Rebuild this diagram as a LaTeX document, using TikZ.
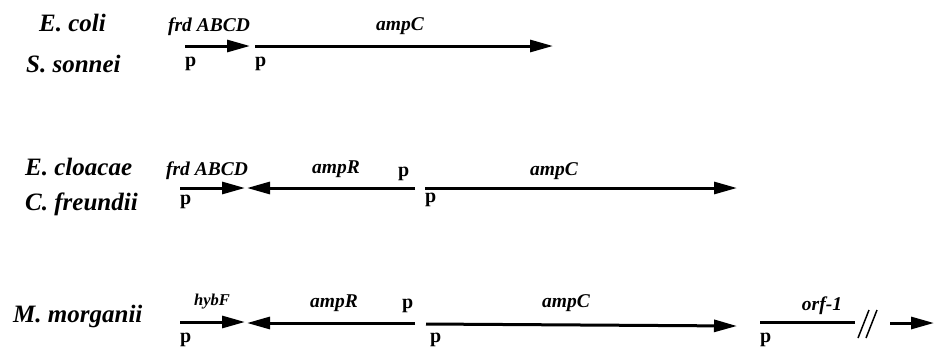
\documentclass[tikz,border=0pt]{standalone}
\usepackage{fontspec}
\setmainfont{Liberation Serif}
\usetikzlibrary{arrows.meta}
\tikzset{
  species/.style={font=\fontsize{25}{25}\selectfont\bfseries\itshape, inner sep=0pt, anchor=base west},
  gene/.style={font=\fontsize{19.5}{20}\selectfont\bfseries\itshape, inner sep=0pt, anchor=base},
  prom/.style={font=\fontsize{20}{20}\selectfont\bfseries, inner sep=0pt, anchor=base west},
  orfline/.style={line width=3pt},
  genearrow/.style={line width=3pt, -{Triangle[length=23pt,width=12pt]}},
  brk/.style={line width=1.5pt}
}
\begin{document}
\begin{tikzpicture}[x=1pt,y=-1pt]
\useasboundingbox (0,0) rectangle (934,346);
% ---------- Row 1 ----------
\node[species] (ecoli) at (39,31) {E. coli};
\node[species] (sson) at (26,72) {S. sonnei};
\coordinate (f1s) at (185,46); \coordinate (f1e) at (250,46);
\coordinate (c1s) at (255,46); \coordinate (c1e) at (553,46);
\draw[genearrow] (f1s) -- (f1e);
\draw[genearrow] (c1s) -- (c1e);
\node[gene] (frd1) at (209,31) {frd ABCD};
\node[gene] (ampc1) at (400,30) {ampC};
\node[prom] (p1a) at (185,66) {p};
\node[prom] (p1b) at (255,66) {p};
% ---------- Row 2 ----------
\node[species] (eclo) at (25,175) {E. cloacae};
\node[species] (cfre) at (25,210) {C. freundii};
\coordinate (f2s) at (180,188); \coordinate (f2e) at (245,188);
\coordinate (r2s) at (415,188); \coordinate (r2e) at (247,188);
\coordinate (c2s) at (425,188); \coordinate (c2e) at (737,188);
\draw[genearrow] (f2s) -- (f2e);
\draw[genearrow] (r2s) -- (r2e);
\draw[genearrow] (c2s) -- (c2e);
\node[gene] (frd2) at (207,175) {frd ABCD};
\node[gene] (ampr2) at (336,173) {ampR};
\node[gene] (ampc2) at (554,175) {ampC};
\node[prom] (p2a) at (180,204) {p};
\node[prom] (p2b) at (398,176) {p};
\node[prom] (p2c) at (425,202) {p};
% ---------- Row 3 ----------
\node[species] (mmor) at (13,322) {M. morganii};
\coordinate (h3s) at (180,322); \coordinate (h3e) at (245,322);
\coordinate (r3s) at (415,323); \coordinate (r3e) at (247,323);
\coordinate (c3s) at (426,324); \coordinate (c3e) at (737,326);
\coordinate (o3s) at (760,322); \coordinate (o3e) at (855,322);
\coordinate (b1s) at (858,338); \coordinate (b1e) at (869,310);
\coordinate (b2s) at (866,338); \coordinate (b2e) at (877,310);
\coordinate (l3s) at (890,323); \coordinate (l3e) at (934,323);
\draw[genearrow] (h3s) -- (h3e);
\draw[genearrow] (r3s) -- (r3e);
\draw[genearrow] (c3s) -- (c3e);
\draw[orfline] (o3s) -- (o3e);
\draw[brk] (b1s) -- (b1e);
\draw[brk] (b2s) -- (b2e);
\draw[genearrow] (l3s) -- (l3e);
\node[gene, font=\fontsize{16.5}{17}\selectfont\bfseries\itshape] (hybf) at (212,305) {hybF};
\node[gene] (ampr3) at (334,307) {ampR};
\node[gene] (ampc3) at (566,307) {ampC};
\node[gene] (orf1) at (822,310) {orf-1};
\node[prom] (p3a) at (180,342) {p};
\node[prom] (p3b) at (402,308) {p};
\node[prom] (p3c) at (430,342) {p};
\node[prom] (p3d) at (760,342) {p};
\end{tikzpicture}
\end{document}
